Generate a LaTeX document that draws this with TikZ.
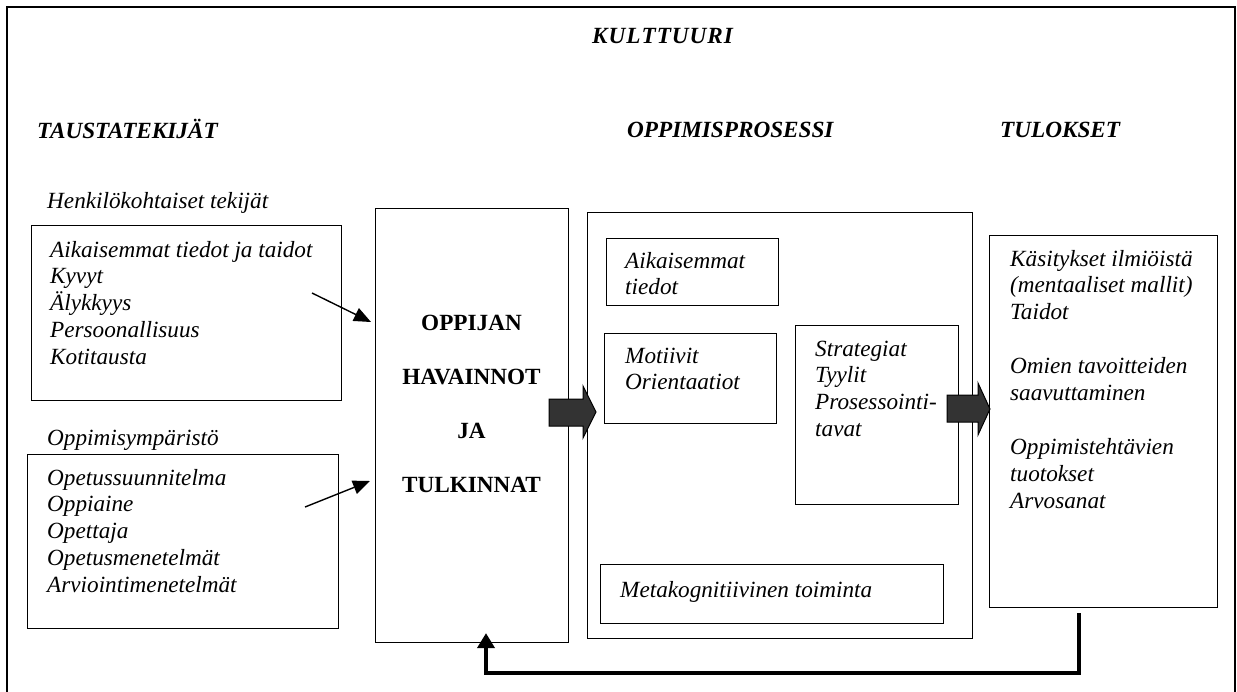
\documentclass[tikz,border=0pt]{standalone}
\usepackage{fontspec}
\setmainfont{Liberation Serif}
\usetikzlibrary{arrows.meta,calc}

% left-aligned stack of lines whose baseline is the first line
\newcommand\stackl[1]{\begin{tabular}[t]{@{}l@{}}#1\end{tabular}}
\newcommand\stackc[1]{\begin{tabular}[t]{@{}c@{}}#1\end{tabular}}

\begin{document}
\begin{tikzpicture}[x=1pt,y=-1pt,
  box/.style={draw, line width=1.1pt, inner sep=0pt, anchor=north west},
  txt/.style={anchor=base west, inner sep=0pt, font=\fontsize{23.2}{26.9}\selectfont\itshape},
  head/.style={anchor=base west, inner sep=0pt, font=\fontsize{23.2}{26.9}\selectfont\bfseries\itshape},
  bold/.style={anchor=base, inner sep=0pt, font=\fontsize{23.2}{26.7}\selectfont\bfseries},
  thinarrow/.style={line width=1.4pt, -{Triangle[length=17pt,width=14pt]}},
  blockarrow/.style={draw, line width=1pt, fill=black!80, line join=miter},
  feedback/.style={line width=4pt, -{Triangle[length=15pt,width=17pt]}}]

\useasboundingbox (0,0) rectangle (1237,691);

% culture frame, open at the bottom
\draw[line width=2pt] (7,720) -- (7,7) -- (1235,7) -- (1235,720);

% headings
\node[head] (culture) at (592,43) {K\kern1ptU\kern1ptL\kern1ptT\kern1ptT\kern1ptU\kern1ptU\kern1ptR\kern1ptI};
\node[head] (hbg)   at (37,138)  {TAUSTATEKIJÄT};
\node[head] (hproc) at (627,137) {OPPIMISPROSESSI};
\node[head] (hres)  at (1000,137) {TULOKSET};

% background factors
\node[txt] (lpers) at (47,208) {Henkilökohtaiset tekijät};
\node[box, minimum width=310pt, minimum height=175pt] (pers) at (31,225) {};
\node[txt] (perstxt) at (50,257) {\stackl{Aikaisemmat tiedot ja taidot\\Kyvyt\\Älykkyys\\Persoonallisuus\\Kotitausta}};

\node[txt] (lenv) at (47,445) {Oppimisympäristö};
\node[box, minimum width=311pt, minimum height=174pt] (env) at (27,454) {};
\node[txt] (envtxt) at (47,485) {\stackl{Opetussuunnitelma\\Oppiaine\\Opettaja\\Opetusmenetelmät\\Arviointimenetelmät}};

% learner's perceptions
\node[box, minimum width=193pt, minimum height=434pt] (perc) at (375,208) {};
\node[bold] (perctxt) at (471.5,330) {\stackc{OPPIJAN\\[27.6pt]HAVAINNOT\\[27.6pt]JA\\[27.6pt]TULKINNAT}};

% learning process
\node[box, minimum width=385pt, minimum height=426pt] (proc) at (587,212) {};
\node[box, minimum width=172pt, minimum height=67pt] (prev) at (606,238) {};
\begin{scope}
  \clip (606,238) rectangle (778,297);
  \node[txt] (prevtxt) at (625,268) {\stackl{Aikaisemmat\\tiedot}};
\end{scope}
\node[box, minimum width=172pt, minimum height=90pt] (mot) at (604,333) {};
\node[txt] (mottxt) at (625,363) {\stackl{Motiivit\\Orientaatiot}};
\node[box, minimum width=163pt, minimum height=179pt] (strat) at (795,325) {};
\node[txt] (strattxt) at (815,356) {\stackl{Strategiat\\Tyylit\\Prosessointi-\\tavat}};
\node[box, minimum width=343pt, minimum height=59pt] (meta) at (600,564) {};
\node[txt] (metatxt) at (620,597) {Metakognitiivinen toiminta};

% outcomes
\node[box, minimum width=228pt, minimum height=372pt] (res) at (989,235) {};
\node[txt] (restxt) at (1010,266) {\stackl{Käsitykset ilmiöistä\\(mentaaliset mallit)\\Taidot\\ \\Omien tavoitteiden\\saavuttaminen\\ \\Oppimistehtävien\\tuotokset\\Arvosanat}};

% influences on the learner's perceptions
\coordinate (a1s) at (312,293);
\coordinate (a1e) at ($(perc.north west)+(-4,114)$);
\draw[thinarrow] (a1s) -- (a1e);
\coordinate (a2s) at (305,507);
\coordinate (a2e) at ($(perc.north west)+(-5,273)$);
\draw[thinarrow] (a2s) -- (a2e);

% broad arrows between the stages
\path[blockarrow] (549,399) -- (583,399) -- (583,386) -- (596,412) -- (583,438) -- (583,426) -- (549,426) -- cycle;
\path[blockarrow] (947,395) -- (978,395) -- (978,383) -- (990,409) -- (978,435) -- (978,422) -- (947,422) -- cycle;

% feedback from outcomes back to perceptions
\coordinate (fbs) at ($(res.south west)+(90,5)$);
\coordinate (fbe) at ($(perc.south west)+(111,-10)$);
\draw[feedback] (fbs) -- ++(0,60) -| (fbe);
\end{tikzpicture}
\end{document}
